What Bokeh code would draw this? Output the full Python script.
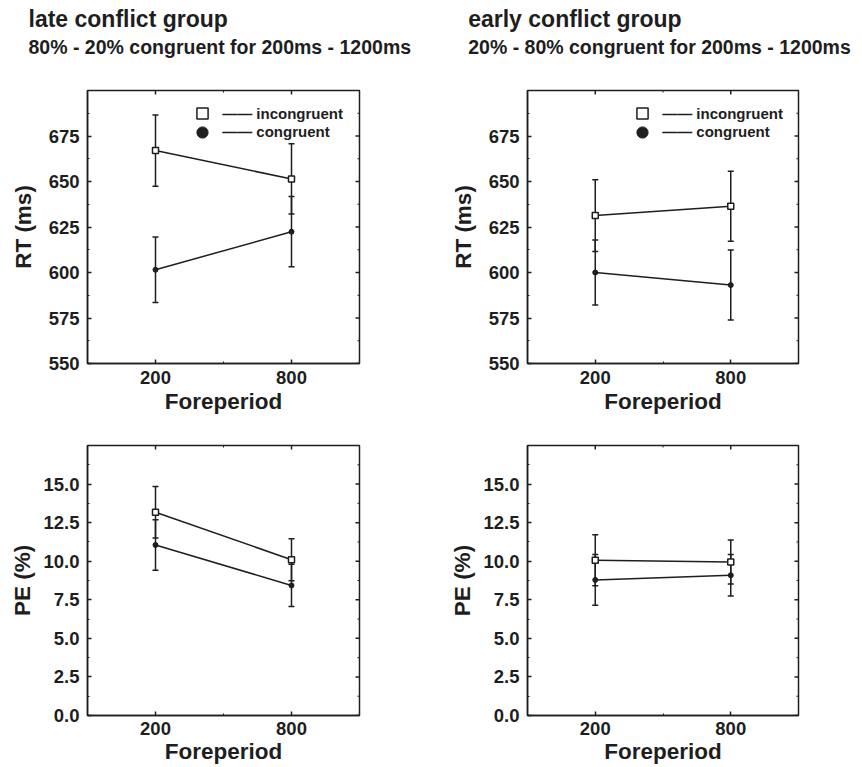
import math
from bokeh.plotting import figure
from bokeh.models import (Range1d, FixedTicker, LinearAxis, Whisker, ColumnDataSource,
                          Legend, LegendItem, PrintfTickFormatter, TeeHead)
from bokeh.core.properties import value
from bokeh.layouts import column, row
from bokeh.embed import file_html
from bokeh.resources import INLINE

# ---------------- data ----------------
foreperiod = [200, 800]

late_rt_incong = [667.0, 651.4]
late_rt_incong_err = [19.6, 19.3]
late_rt_cong = [601.5, 622.4]
late_rt_cong_err = [18.0, 19.3]

early_rt_incong = [631.3, 636.4]
early_rt_incong_err = [19.7, 19.2]
early_rt_cong = [600.0, 593.1]
early_rt_cong_err = [17.9, 19.2]

late_pe_incong = [13.17, 10.10]
late_pe_incong_err = [1.67, 1.36]
late_pe_cong = [11.05, 8.43]
late_pe_cong_err = [1.63, 1.37]

early_pe_incong = [10.06, 9.95]
early_pe_incong_err = [1.65, 1.42]
early_pe_cong = [8.79, 9.09]
early_pe_cong_err = [1.64, 1.34]

rt_ticks = [550, 575, 600, 625, 650, 675]
rt_minor = [562.5, 587.5, 612.5, 637.5, 662.5, 687.5]
pe_ticks = [0.0, 2.5, 5.0, 7.5, 10.0, 12.5, 15.0]
pe_minor = [1.25, 3.75, 6.25, 8.75, 11.25, 13.75, 16.25]
x_ticks = [200, 800]
x_minor = [500]

titles = ["late conflict group", "early conflict group"]
subtitles = ["80% - 20% congruent for 200ms - 1200ms",
             "20% - 80% congruent for 200ms - 1200ms"]
legend_labels = ["incongruent", "congruent"]

FONT = "Liberation Sans"
INK = "#1e1e1e"
X_RANGE = (-100, 1100)


def style_axis(ax, ticker, label, fmt=None, standoff=8, label_standoff=8):
    ax.ticker = ticker
    ax.major_tick_in = 4
    ax.major_tick_out = 0
    ax.minor_tick_in = 2
    ax.minor_tick_out = 0
    ax.major_tick_line_color = INK
    ax.minor_tick_line_color = INK
    ax.major_tick_line_width = 1.5
    ax.minor_tick_line_width = 1
    ax.axis_line_color = INK
    ax.axis_line_width = 1.5
    if fmt is not None:
        ax.formatter = fmt
    ax.major_label_text_font = FONT
    ax.major_label_text_font_style = "bold"
    ax.major_label_text_font_size = "18.5px"
    ax.major_label_text_color = INK
    ax.major_label_standoff = standoff
    ax.axis_label = label
    ax.axis_label_text_font = FONT
    ax.axis_label_text_font_style = "bold"
    ax.axis_label_text_font_size = "22.5px"
    ax.axis_label_text_color = INK
    ax.axis_label_standoff = label_standoff


def make_legend(renderer, label, loc):
    return Legend(items=[LegendItem(label="\u2014\u2014 " + label, renderers=[renderer])],
                  location=loc, border_line_color=None,
                  background_fill_alpha=0, label_text_font=FONT,
                  label_text_font_style="bold", label_text_font_size="15px",
                  label_text_color=INK, glyph_width=28, glyph_height=28,
                  label_height=18, spacing=0, padding=3, margin=0,
                  label_standoff=6)


def make_panel(width, height, borders, yr, yticks, yminor, ylabel, fmt,
               inc, inc_err, con, con_err, legend=False, y_label_standoff=10,
               x_standoffs=(6, 1)):
    bl, br, bt, bb = borders
    p = figure(width=width, height=height, output_backend="svg", toolbar_location=None,
               title=None, x_range=Range1d(*X_RANGE), y_range=Range1d(*yr),
               x_axis_location=None, y_axis_location=None,
               min_border_left=bl, min_border_right=br, min_border_top=bt,
               min_border_bottom=bb)
    p.outline_line_color = INK
    p.outline_line_width = 1.5
    p.xgrid.visible = False
    p.ygrid.visible = False
    p.background_fill_color = "white"
    p.border_fill_color = "white"

    xt = FixedTicker(ticks=x_ticks, minor_ticks=x_minor)
    yt = FixedTicker(ticks=yticks, minor_ticks=yminor)

    left = LinearAxis()
    style_axis(left, yt, ylabel, fmt, standoff=8, label_standoff=y_label_standoff)
    p.add_layout(left, "left")
    bottom = LinearAxis()
    style_axis(bottom, xt, "Foreperiod", standoff=x_standoffs[0], label_standoff=x_standoffs[1])
    p.add_layout(bottom, "below")

    # mirrored inward ticks on the right and top edges of the frame
    p.ray(x=[X_RANGE[1]] * len(yticks), y=yticks, length=4, length_units="screen",
          angle=math.pi, line_color=INK, line_width=1.5)
    p.ray(x=[X_RANGE[1]] * len(yminor), y=yminor, length=2, length_units="screen",
          angle=math.pi, line_color=INK, line_width=1)
    p.ray(x=x_ticks, y=[yr[1]] * len(x_ticks), length=4, length_units="screen",
          angle=-math.pi / 2, line_color=INK, line_width=1.5)
    p.ray(x=x_minor, y=[yr[1]] * len(x_minor), length=2, length_units="screen",
          angle=-math.pi / 2, line_color=INK, line_width=1)

    for vals, errs in ((inc, inc_err), (con, con_err)):
        src = ColumnDataSource(data=dict(
            x=foreperiod,
            upper=[v + e for v, e in zip(vals, errs)],
            lower=[v - e for v, e in zip(vals, errs)]))
        w = Whisker(base="x", upper="upper", lower="lower", source=src,
                    line_color=INK, line_width=1.5,
                    upper_head=TeeHead(size=6, line_color=INK, line_width=1.5),
                    lower_head=TeeHead(size=6, line_color=INK, line_width=1.5))
        p.add_layout(w)

    p.line(foreperiod, inc, line_color=INK, line_width=1.5)
    p.line(foreperiod, con, line_color=INK, line_width=1.5)
    p.scatter(foreperiod, inc, marker="square", size=6, fill_color="white",
              line_color=INK, line_width=1.5)
    p.scatter(foreperiod, con, marker="circle", size=5, fill_color=INK,
              line_color=INK, line_width=1)

    if legend:
        nan = float("nan")
        r1 = p.scatter([nan], [nan], marker="square", size=11, fill_color="white",
                       line_color=INK, line_width=1.5)
        r2 = p.scatter([nan], [nan], marker="circle", size=11, fill_color=INK,
                       line_color=INK, line_width=1)
        p.add_layout(make_legend(r1, legend_labels[0], (101.2, 235.7)))
        p.add_layout(make_legend(r2, legend_labels[1], (101.2, 217.3)))
    return p


# ---------------- header with the group titles ----------------
HEAD_W, HEAD_H = 860, 70
head = figure(width=HEAD_W, height=HEAD_H, output_backend="svg", toolbar_location=None,
              title=None, x_range=Range1d(0, HEAD_W), y_range=Range1d(HEAD_H, 0),
              x_axis_location=None, y_axis_location=None, min_border=0)
head.outline_line_color = None
head.xgrid.visible = False
head.ygrid.visible = False
head.text(x=[28, 467.7], y=[18, 18], text=titles, text_font=value(FONT),
          text_font_style="bold", text_font_size="23px", text_color=INK,
          text_baseline="alphabetic", text_align="left")
head.text(x=[28, 467.7], y=[46.5, 46.5], text=subtitles, text_font=value(FONT),
          text_font_style="bold", text_font_size="19.5px", text_color=INK,
          text_baseline="alphabetic", text_align="left")

fmt_pe = PrintfTickFormatter(format="%.1f")

p1 = make_panel(437, 355, (87, 78, 20, 62), (550, 700), rt_ticks, rt_minor, "RT (ms)", None,
                late_rt_incong, late_rt_incong_err, late_rt_cong, late_rt_cong_err,
                legend=True, x_standoffs=(7, 2))
p2 = make_panel(423, 355, (90, 62, 20, 62), (550, 700), rt_ticks, rt_minor, "RT (ms)", None,
                early_rt_incong, early_rt_incong_err, early_rt_cong, early_rt_cong_err,
                legend=True, x_standoffs=(7, 2))
p3 = make_panel(437, 341, (87, 78, 20, 51), (0, 17.5), pe_ticks, pe_minor, "PE (%)", fmt_pe,
                late_pe_incong, late_pe_incong_err, late_pe_cong, late_pe_cong_err,
                y_label_standoff=5, x_standoffs=(6, 1))
p4 = make_panel(423, 341, (90, 62, 20, 51), (0, 17.5), pe_ticks, pe_minor, "PE (%)", fmt_pe,
                early_pe_incong, early_pe_incong_err, early_pe_cong, early_pe_cong_err,
                y_label_standoff=5, x_standoffs=(6, 1))

layout = column(head, row(p1, p2, spacing=0), row(p3, p4, spacing=0), spacing=0)
open("out.html", "w").write(file_html(layout, INLINE))
